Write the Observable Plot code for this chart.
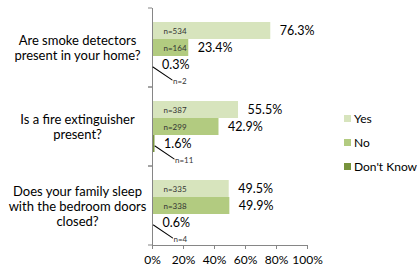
<!DOCTYPE html>
<html>
<head>
<meta charset="utf-8">
<script src="https://cdn.jsdelivr.net/npm/d3@7"></script>
<script src="https://cdn.jsdelivr.net/npm/@observablehq/plot@0.6"></script>
<style>
  body { margin: 0; background: #fff; }
  #wrap { position: relative; width: 419px; height: 274px; font-family: Lato, "Noto Sans", sans-serif; }
  #legend { position: absolute; left: 344px; top: 106px; font-size: 12px; color: #000; }
  #legend .row { height: 24px; display: flex; align-items: center; }
  #legend .sw { width: 7px; height: 7px; margin-right: 3px; }
</style>
</head>
<body>
<div id="wrap"></div>
<script>
const questions = [
  "Are smoke detectors\npresent in your home?",
  "Is a fire extinguisher\npresent?",
  "Does your family sleep\nwith the bedroom doors\nclosed?"
];
const answers = ["Yes", "No", "Don't Know"];
const colors = ["#d7e4bd", "#b2cb80", "#77933c"];
const pctYes = [76.3, 55.5, 49.5];
const pctNo = [23.4, 42.9, 49.9];
const pctDK = [0.3, 1.6, 0.6];
const nYes = [534, 387, 335];
const nNo = [164, 299, 338];
const nDK = [2, 11, 4];
const xTicks = [0, 20, 40, 60, 80, 100];

const data = [];
questions.forEach((q, i) => {
  data.push({question: q, answer: "Yes", pct: pctYes[i], n: nYes[i]});
  data.push({question: q, answer: "No", pct: pctNo[i], n: nNo[i]});
  data.push({question: q, answer: "Don't Know", pct: pctDK[i], n: nDK[i]});
});
const big = data.filter(d => d.answer !== "Don't Know");
const small = data.filter(d => d.answer === "Don't Know");

const axisColor = "#868686";

const leftTicks = (index, scales, values, dims) => {
  const g = d3.create("svg:g").attr("stroke", axisColor);
  const x0 = dims.marginLeft;
  [dims.marginTop, dims.height - dims.marginBottom].forEach(y => {
    g.append("line").attr("x1", x0 - 4).attr("x2", x0).attr("y1", y).attr("y2", y);
  });
  return g.node();
};

const lineShape = {
  draw(context, l) { context.moveTo(0, 0); context.lineTo(0, -l); }
};

const chart = Plot.plot({
  width: 419,
  height: 274,
  marginLeft: 152,
  marginRight: 112,
  marginTop: 7,
  marginBottom: 28,
  style: {fontFamily: "Lato, 'Noto Sans', sans-serif", background: "#fff", color: "#000"},
  x: {domain: [0, 100], ticks: xTicks, tickFormat: d => d + "%", label: null},
  y: {domain: answers, paddingInner: 0, paddingOuter: 0.72, axis: null},
  fy: {domain: questions, padding: 0, axis: null},
  color: {domain: answers, range: colors},
  marks: [
    Plot.barX(data, {x: "pct", y: "answer", fy: "question", fill: "answer"}),
    Plot.frame({anchor: "left", stroke: axisColor}),
    Plot.frame({anchor: "bottom", stroke: axisColor, facetAnchor: "bottom"}),
    leftTicks,
    Plot.axisX({ticks: xTicks, tickFormat: d => d + "%", label: null, tickSize: 4, stroke: axisColor, fontSize: 12, tickPadding: 6, fill: "#000"}),
    Plot.text(big, {x: 0, y: "answer", fy: "question", text: d => "n=" + d.n, textAnchor: "start", dx: 11, fontSize: 8, fill: "#333"}),
    Plot.text(data, {x: "pct", y: "answer", fy: "question", text: d => d.pct.toFixed(1) + "%", textAnchor: "start", dx: 9, fontSize: 12.5, fill: "#000"}),
    Plot.vector(small, {x: "pct", y: "answer", fy: "question", length: 23, rotate: 124, anchor: "start", shape: lineShape, stroke: "#000", strokeWidth: 1, dy: 2}),
    Plot.text(small, {x: "pct", y: "answer", fy: "question", text: d => "n=" + d.n, textAnchor: "start", dx: 20, dy: 16, fontSize: 8, fill: "#333"}),
    Plot.text(questions, {fy: d => d, text: d => d, frameAnchor: "left", dx: -75, textAnchor: "middle", fontSize: 13, lineHeight: 1.15, fill: "#000"})
  ]
});
const wrap = document.getElementById("wrap");
wrap.appendChild(chart);

const legend = d3.select(wrap).append("div").attr("id", "legend");
answers.forEach((a, i) => {
  const row = legend.append("div").attr("class", "row");
  row.append("div").attr("class", "sw").style("background", colors[i]);
  row.append("span").text(a);
});
</script>
</body>
</html>
